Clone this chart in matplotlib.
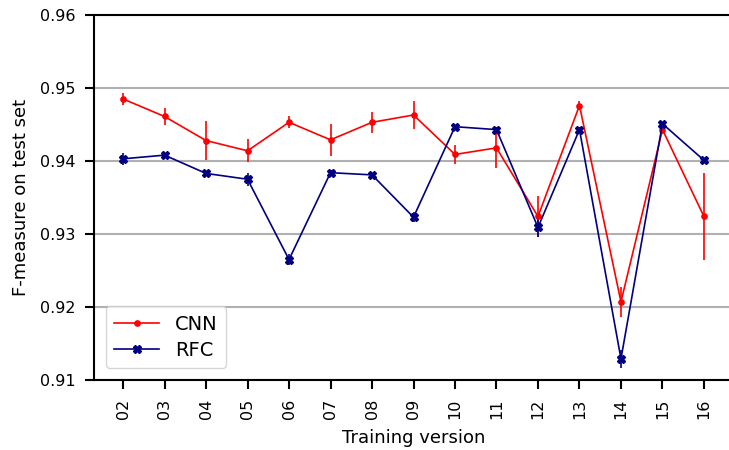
import matplotlib
matplotlib.use("Agg")
import matplotlib.pyplot as plt
import numpy as np

# training versions and F-measure results on the test set
versions = ["02", "03", "04", "05", "06", "07", "08", "09",
            "10", "11", "12", "13", "14", "15", "16"]

cnn_mean = [0.9485, 0.9461, 0.9428, 0.9414, 0.9453, 0.9429, 0.9453, 0.9463,
            0.9409, 0.9418, 0.9324, 0.9476, 0.9207, 0.9443, 0.9324]
cnn_err = [0.0008, 0.0011, 0.0027, 0.0016, 0.0008, 0.0022, 0.0014, 0.0019,
           0.0013, 0.0027, 0.0028, 0.0006, 0.0021, 0.0003, 0.0059]

rfc_mean = [0.9403, 0.9408, 0.9383, 0.9375, 0.9265, 0.9384, 0.9381, 0.9323,
            0.9447, 0.9443, 0.9309, 0.9443, 0.9129, 0.9451, 0.9401]
rfc_err = [0.0008, 0.0003, 0.0003, 0.0009, 0.0007, 0.0003, 0.0003, 0.0007,
           0.0003, 0.0003, 0.0013, 0.0003, 0.0012, 0.0003, 0.0003]

plt.rcParams['font.family'] = ['DejaVu Sans']

fig = plt.figure(figsize=(7.29, 4.5), dpi=100)
# axes run slightly past the right edge of the canvas
ax = fig.add_axes([94 / 729, 1 - 380 / 450, (733 - 94) / 729, (380 - 15) / 450])

x = np.arange(len(versions))
# error bars first, then the lines and markers on top
ax.errorbar(x, cnn_mean, yerr=cnn_err, fmt='none', ecolor='red',
            elinewidth=1.2, capsize=0, zorder=3)
ax.errorbar(x, rfc_mean, yerr=rfc_err, fmt='none', ecolor='navy',
            elinewidth=1.2, capsize=0, zorder=3)
ax.plot(x, cnn_mean, color='red', marker='o', markersize=3.8,
        linewidth=1.2, label='CNN', zorder=4)
ax.plot(x, rfc_mean, color='navy', marker='X', markersize=5.5,
        linewidth=1.2, label='RFC', zorder=4)

ax.set_xlim(-0.7, len(versions) - 1 + 0.7)
ax.set_ylim(0.91, 0.96)
ax.set_yticks([0.91, 0.92, 0.93, 0.94, 0.95, 0.96])
ax.set_xticks(x)
ax.set_xticklabels(versions, rotation=90)
ax.yaxis.grid(True, color='#b0b0b0', linewidth=1.5)
ax.set_axisbelow(True)
for sp in ax.spines.values():
    sp.set_linewidth(1.5)
ax.tick_params(width=1.5, length=6.5, pad=7, labelsize=11.5)

ax.set_xlabel('Training version', fontsize=13, labelpad=7)
ax.set_ylabel('F-measure on test set', fontsize=13, labelpad=7)
ax.legend(loc='lower left', fontsize=14, borderpad=0.45, handlelength=2.3,
          borderaxespad=0.6, labelspacing=0.35)

fig.savefig('out.png', dpi=100)
